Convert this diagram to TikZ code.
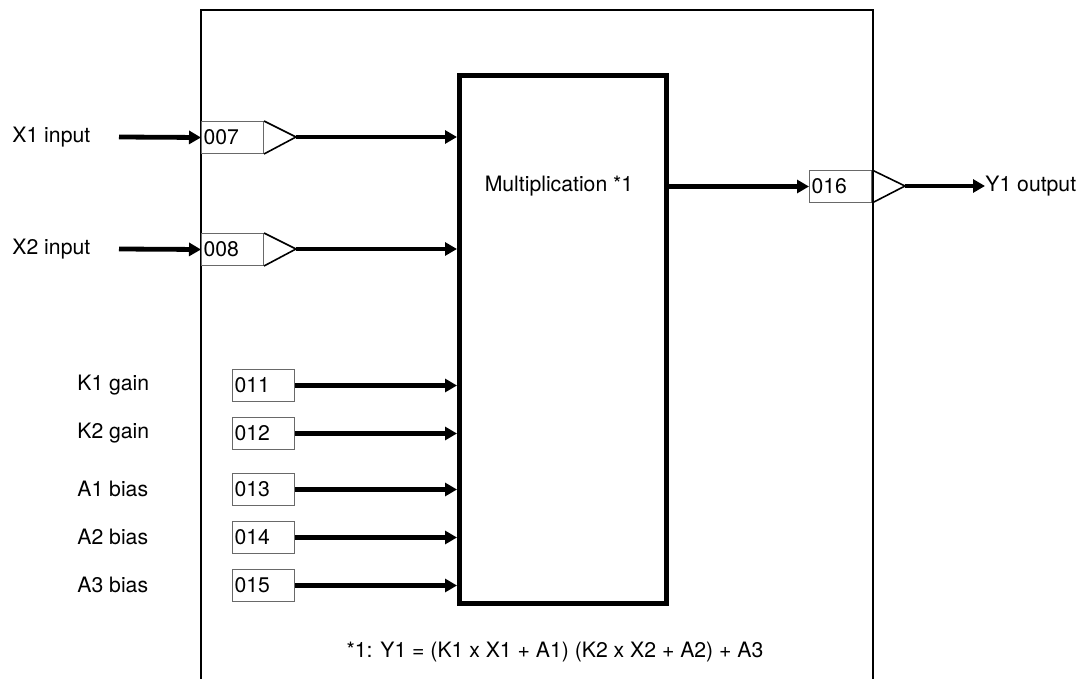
\documentclass[tikz,border=0pt]{standalone}
\usepackage{fontspec}
\setmainfont{TeX Gyre Heros}
\usetikzlibrary{arrows.meta, positioning, calc}
\definecolor{BoxGray}{RGB}{105,105,105}

\tikzset{
  sig/.style={line width=2.4pt, -{Triangle[length=6pt, width=6.5pt]}},
  regbox/.style={draw=BoxGray, line width=0.5pt, anchor=north west,
                 minimum height=16pt, inner sep=1pt, text width=29pt, align=left},
  lbl/.style={inner sep=0pt}
}

\begin{document}
\begin{tikzpicture}[x=0.5pt, y=-0.5pt, font=\fontsize{10.6}{13}\selectfont]
      \useasboundingbox (0,0) rectangle (1083,679);

      % outer frame, open at the bottom
      \draw[line width=1pt] (201,679) -- (201,10) -- (873,10) -- (873,679);

      % multiplication block
      \node[draw, line width=2.4pt, anchor=north west, minimum width=103.5pt,
            minimum height=264pt, inner sep=0pt] (mult) at (457,73) {};
      \node[lbl] (multtxt) at (559,186) {Multiplication *1};

      % X1 input
      \node[lbl, anchor=west] (x1) at (12,137) {X1 input};
      \coordinate (x1start) at (119,137);
      \node[regbox] (r007) at (201,121) {007};
      \draw[line width=0.8pt] (r007.north east) -- (296,137) coordinate (t007) -- (r007.south east);
      \draw[sig] (x1start) -- (r007.west);
      \draw[sig] (t007) -- (t007 -| mult.west);

      % X2 input
      \node[lbl, anchor=west] (x2) at (12,249) {X2 input};
      \coordinate (x2start) at (119,249);
      \node[regbox] (r008) at (201,233) {008};
      \draw[line width=0.8pt] (r008.north east) -- (296,249) coordinate (t008) -- (r008.south east);
      \draw[sig] (x2start) -- (r008.west);
      \draw[sig] (t008) -- (t008 -| mult.west);

      % gains and biases
      \node[lbl, anchor=west] (k1) at (77,385) {K1 gain};
      \node[regbox] (r011) at (232,369) {011};
      \draw[sig] (r011.east) -- (r011.east -| mult.west);

      \node[lbl, anchor=west] (k2) at (77,433) {K2 gain};
      \node[regbox] (r012) at (232,417) {012};
      \draw[sig] (r012.east) -- (r012.east -| mult.west);

      \node[lbl, anchor=west] (a1) at (77,489) {A1 bias};
      \node[regbox] (r013) at (232,473) {013};
      \draw[sig] (r013.east) -- (r013.east -| mult.west);

      \node[lbl, anchor=west] (a2) at (77,537) {A2 bias};
      \node[regbox] (r014) at (232,521) {014};
      \draw[sig] (r014.east) -- (r014.east -| mult.west);

      \node[lbl, anchor=west] (a3) at (77,585) {A3 bias};
      \node[regbox] (r015) at (232,569) {015};
      \draw[sig] (r015.east) -- (r015.east -| mult.west);

      % Y1 output
      \node[regbox] (r016) at (809,170) {016};
      \draw[line width=0.8pt] (r016.north east) -- (905,186) coordinate (t016) -- (r016.south east);
      \node[lbl, anchor=west] (y1) at (985,186) {Y1 output};
      \draw[sig] (r016.west -| mult.east) -- (r016.west);
      \draw[sig] (t016) -- (y1.west);

      % footnote
      \node[lbl] (note) at (555,652) {*1: Y1 = (K1 x X1 + A1) (K2 x X2 + A2) + A3};
\end{tikzpicture}
\end{document}
